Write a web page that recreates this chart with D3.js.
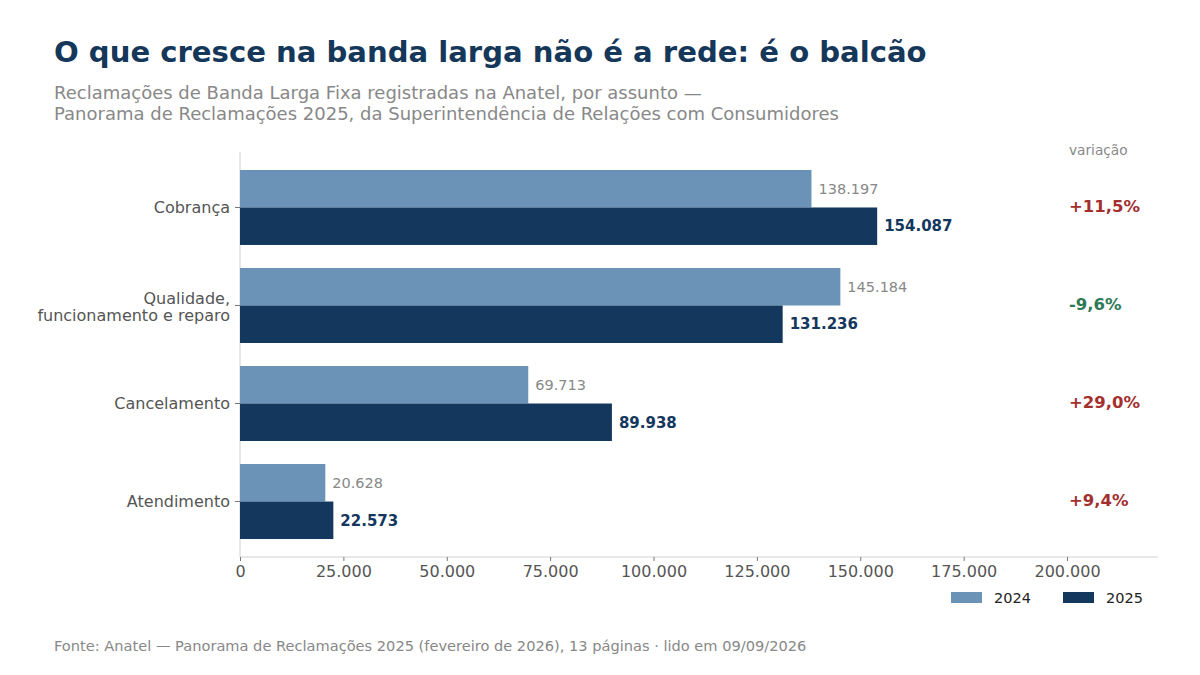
<!DOCTYPE html>
<html>
<head>
<meta charset="utf-8">
<script src="https://cdn.jsdelivr.net/npm/d3@7"></script>
<style>
  body { margin: 0; background: #fff; }
  text { font-family: "DejaVu Sans", sans-serif; }
</style>
</head>
<body>
<div id="chart"></div>
<script>
(function () {

  // Data
  const categories = ["Cobrança", "Qualidade,\nfuncionamento e reparo", "Cancelamento", "Atendimento"]
  const values2024 = [138197, 145184, 69713, 20628]
  const values2025 = [154087, 131236, 89938, 22573]
  const variations = ["+11,5%", "-9,6%", "+29,0%", "+9,4%"]
  const xTicks = [0, 25000, 50000, 75000, 100000, 125000, 150000, 175000, 200000]
  const years = ["2024", "2025"]

  const W = 1200, H = 675
  const c2024 = "#6b93b8", c2025 = "#14375e"
  const fmt = d3.formatLocale({ decimal: ",", thousands: ".", grouping: [3], currency: ["R$", ""] }).format(",d")

  const svg = d3.select("#chart").append("svg")
      .attr("width", W)
      .attr("height", H)

  // Title & subtitle
  svg.append("text")
    .attr("x", 54).attr("y", 62)
    .attr("fill", "#14375a")
    .attr("font-size", 29.1).attr("font-weight", "bold")
    .text("O que cresce na banda larga não é a rede: é o balcão")

  svg.append("text")
    .attr("x", 54).attr("y", 99)
    .attr("fill", "#888").attr("font-size", 18)
    .text("Reclamações de Banda Larga Fixa registradas na Anatel, por assunto —")
  svg.append("text")
    .attr("x", 54).attr("y", 120)
    .attr("fill", "#888").attr("font-size", 18)
    .text("Panorama de Reclamações 2025, da Superintendência de Relações com Consumidores")

  // Scales
  const x = d3.scaleLinear().domain([0, 222000]).range([240, 1158])
  const y = d3.scalePoint().domain(categories).range([152, 557]).padding(0.566)
  const bh = 37.5

  // Spines
  svg.append("line")
    .attr("x1", 240).attr("x2", 240).attr("y1", 152).attr("y2", 557)
    .attr("stroke", "#d0d0d0")
  svg.append("line")
    .attr("x1", 240).attr("x2", 1158).attr("y1", 557).attr("y2", 557)
    .attr("stroke", "#d0d0d0")

  // X axis
  const xAxis = svg.append("g")
    .attr("transform", "translate(0,557)")
    .call(d3.axisBottom(x).tickValues(xTicks).tickFormat(fmt).tickSize(4).tickPadding(5))
  xAxis.select(".domain").remove()
  xAxis.selectAll("line").attr("stroke", "#777")
  xAxis.selectAll("text").attr("fill", "#555").attr("font-size", 16)
    .attr("font-family", "DejaVu Sans, sans-serif")

  // Y axis ticks & labels
  const yAxis = svg.append("g")
  yAxis.selectAll("line")
    .data(categories)
    .join("line")
    .attr("x1", 235).attr("x2", 240)
    .attr("y1", d => y(d)).attr("y2", d => y(d))
    .attr("stroke", "#777")
  yAxis.selectAll("text")
    .data(categories)
    .join("text")
    .attr("x", 230)
    .attr("y", d => y(d))
    .attr("text-anchor", "end")
    .attr("fill", "#555")
    .attr("font-size", 16)
    .each(function (d) {
      const lines = d.split("\n")
      const t = d3.select(this)
      lines.forEach((l, i) => {
        t.append("tspan")
          .attr("x", 230)
          .attr("dy", i === 0 ? (0.35 - (lines.length - 1) * 0.45) + "em" : "1.05em")
          .text(l)
      })
    })

  // Bars 2024
  svg.selectAll(".b2024")
    .data(categories)
    .join("rect")
    .attr("class", "b2024")
    .attr("x", x(0))
    .attr("y", d => y(d) - bh)
    .attr("width", (d, i) => x(values2024[i]) - x(0))
    .attr("height", bh)
    .attr("fill", c2024)

  // Bars 2025
  svg.selectAll(".b2025")
    .data(categories)
    .join("rect")
    .attr("class", "b2025")
    .attr("x", x(0))
    .attr("y", d => y(d))
    .attr("width", (d, i) => x(values2025[i]) - x(0))
    .attr("height", bh)
    .attr("fill", c2025)

  // Value labels
  svg.selectAll(".l2024")
    .data(categories)
    .join("text")
    .attr("class", "l2024")
    .attr("x", (d, i) => x(values2024[i]) + 7)
    .attr("y", d => y(d) - bh / 2)
    .attr("dy", "0.35em")
    .attr("fill", "#888").attr("font-size", 14.5)
    .text((d, i) => fmt(values2024[i]))

  svg.selectAll(".l2025")
    .data(categories)
    .join("text")
    .attr("class", "l2025")
    .attr("x", (d, i) => x(values2025[i]) + 7)
    .attr("y", d => y(d) + bh / 2)
    .attr("dy", "0.35em")
    .attr("fill", c2025).attr("font-size", 15).attr("font-weight", "bold")
    .text((d, i) => fmt(values2025[i]))

  // Variation column
  svg.append("text")
    .attr("x", 1069).attr("y", 155)
    .attr("fill", "#888").attr("font-size", 13.7)
    .text("variação")

  svg.selectAll(".var")
    .data(categories)
    .join("text")
    .attr("class", "var")
    .attr("x", 1069)
    .attr("y", d => y(d))
    .attr("dy", "0.3em")
    .attr("font-size", 16.5).attr("font-weight", "bold")
    .attr("fill", (d, i) => variations[i].startsWith("-") ? "#2e7a55" : "#a3302e")
    .text((d, i) => variations[i])

  // Legend
  const legend = svg.append("g")
  const legX = [951, 1063]
  legend.selectAll("rect")
    .data(years)
    .join("rect")
    .attr("x", (d, i) => legX[i])
    .attr("y", 592)
    .attr("width", 31).attr("height", 11)
    .attr("fill", (d, i) => i === 0 ? c2024 : c2025)
  legend.selectAll("text")
    .data(years)
    .join("text")
    .attr("x", (d, i) => legX[i] + 43)
    .attr("y", 598)
    .attr("dy", "0.35em")
    .attr("fill", "#222").attr("font-size", 14.5)
    .text(d => d)

  // Footer
  svg.append("text")
    .attr("x", 54).attr("y", 651)
    .attr("fill", "#888").attr("font-size", 14.6)
    .text("Fonte: Anatel — Panorama de Reclamações 2025 (fevereiro de 2026), 13 páginas · lido em 09/09/2026")

})();
</script>
</body>
</html>
